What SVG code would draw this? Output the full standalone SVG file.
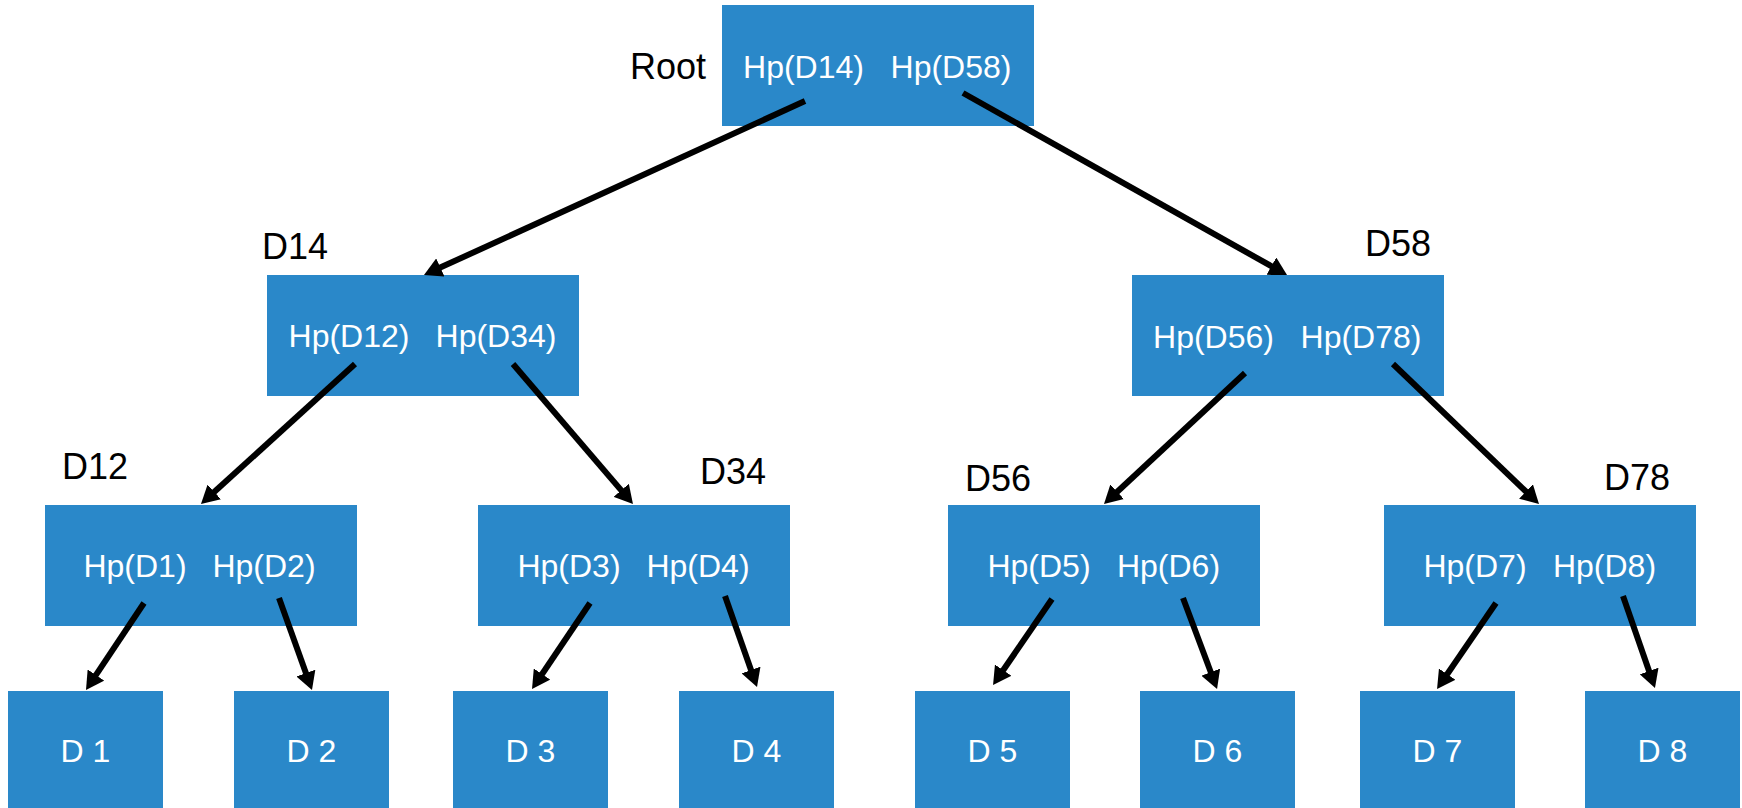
<svg xmlns="http://www.w3.org/2000/svg" width="1742" height="808" viewBox="0 0 1742 808">
<style>
.box{fill:#2A88C9}
.ht{font-family:"Liberation Sans",Arial,sans-serif;font-size:32px;fill:#fff;text-anchor:middle}
.lbl{font-family:"Liberation Sans",Arial,sans-serif;font-size:36px;fill:#000}
.edge{stroke:#000;stroke-width:6;fill:none;marker-end:url(#ah)}
</style>
<defs>
<marker id="ah" viewBox="0 0 18 20" markerWidth="18" markerHeight="20" markerUnits="userSpaceOnUse" refX="5" refY="10" orient="auto">
<path d="M0,0 L18,10 L0,20 z" fill="#000"/>
</marker>
</defs>
<rect width="1742" height="808" fill="#fff"/>
<g id="root">
<rect class="box" x="722" y="5" width="312" height="121"/>
<text class="lbl" x="668" y="79" text-anchor="middle">Root</text>
<text class="ht" x="803.5" y="78">Hp(D14)</text>
<text class="ht" x="951" y="78">Hp(D58)</text>
</g>
<g id="d14">
<rect class="box" x="267" y="275" width="312" height="121"/>
<text class="lbl" x="262" y="259">D14</text>
<text class="ht" x="349" y="347">Hp(D12)</text>
<text class="ht" x="496" y="347">Hp(D34)</text>
</g>
<g id="d58">
<rect class="box" x="1132" y="275" width="312" height="121"/>
<text class="lbl" x="1365" y="256">D58</text>
<text class="ht" x="1213.5" y="348">Hp(D56)</text>
<text class="ht" x="1361" y="348">Hp(D78)</text>
</g>
<g id="d12">
<rect class="box" x="45" y="505" width="312" height="121"/>
<text class="lbl" x="62" y="479">D12</text>
<text class="ht" x="135" y="577">Hp(D1)</text>
<text class="ht" x="264" y="577">Hp(D2)</text>
</g>
<g id="d34">
<rect class="box" x="478" y="505" width="312" height="121"/>
<text class="lbl" x="700" y="484">D34</text>
<text class="ht" x="569" y="577">Hp(D3)</text>
<text class="ht" x="698" y="577">Hp(D4)</text>
</g>
<g id="d56">
<rect class="box" x="948" y="505" width="312" height="121"/>
<text class="lbl" x="965" y="491">D56</text>
<text class="ht" x="1039" y="577">Hp(D5)</text>
<text class="ht" x="1168.5" y="577">Hp(D6)</text>
</g>
<g id="d78">
<rect class="box" x="1384" y="505" width="312" height="121"/>
<text class="lbl" x="1604" y="490">D78</text>
<text class="ht" x="1475" y="577">Hp(D7)</text>
<text class="ht" x="1604.5" y="577">Hp(D8)</text>
</g>
<g id="leaf1"><rect class="box" x="8" y="691" width="155" height="117"/><text class="ht" x="85.5" y="762">D 1</text></g>
<g id="leaf2"><rect class="box" x="234" y="691" width="155" height="117"/><text class="ht" x="311.5" y="762">D 2</text></g>
<g id="leaf3"><rect class="box" x="453" y="691" width="155" height="117"/><text class="ht" x="530.5" y="762">D 3</text></g>
<g id="leaf4"><rect class="box" x="679" y="691" width="155" height="117"/><text class="ht" x="756.5" y="762">D 4</text></g>
<g id="leaf5"><rect class="box" x="915" y="691" width="155" height="117"/><text class="ht" x="992.5" y="762">D 5</text></g>
<g id="leaf6"><rect class="box" x="1140" y="691" width="155" height="117"/><text class="ht" x="1217.5" y="762">D 6</text></g>
<g id="leaf7"><rect class="box" x="1360" y="691" width="155" height="117"/><text class="ht" x="1437.5" y="762">D 7</text></g>
<g id="leaf8"><rect class="box" x="1585" y="691" width="155" height="117"/><text class="ht" x="1662.5" y="762">D 8</text></g>
<g id="connectors">
<line class="edge" x1="805" y1="101" x2="435.8" y2="269.6"/>
<line class="edge" x1="963" y1="93" x2="1275.7" y2="268.6"/>
<line class="edge" x1="355" y1="364" x2="210.6" y2="495.3"/>
<line class="edge" x1="513" y1="364" x2="624.5" y2="494.1"/>
<line class="edge" x1="1245" y1="373" x2="1113.5" y2="495.2"/>
<line class="edge" x1="1393" y1="364" x2="1529.6" y2="495"/>
<line class="edge" x1="144" y1="603" x2="93.2" y2="679.2"/>
<line class="edge" x1="279" y1="598" x2="307.6" y2="677.8"/>
<line class="edge" x1="590" y1="603" x2="539.3" y2="678.2"/>
<line class="edge" x1="725" y1="596" x2="752.7" y2="674.7"/>
<line class="edge" x1="1052" y1="599" x2="1000.4" y2="674.3"/>
<line class="edge" x1="1183" y1="598" x2="1212.5" y2="676.8"/>
<line class="edge" x1="1496" y1="603" x2="1444.4" y2="678.3"/>
<line class="edge" x1="1623" y1="596" x2="1650.7" y2="675.7"/>
</g>
</svg>
